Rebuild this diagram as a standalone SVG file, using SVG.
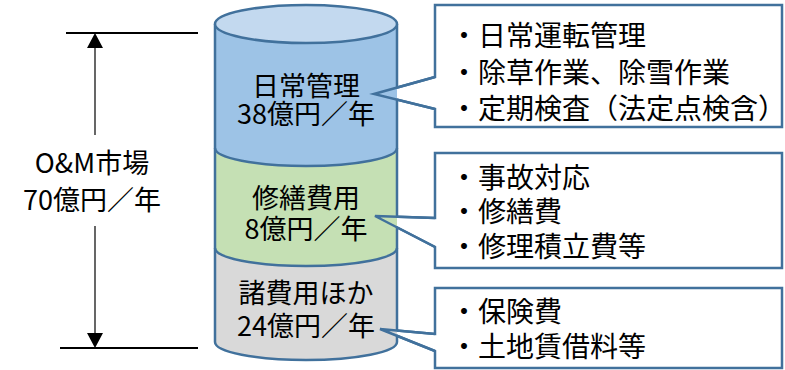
<svg xmlns="http://www.w3.org/2000/svg" width="785" height="370" viewBox="0 0 785 370">
<style>
text{font-family:"Noto Sans CJK JP","Noto Sans",sans-serif;font-size:27px;fill:#000}
.c{text-anchor:middle}
.l{font-size:28px}
.edge{fill:none;stroke:#41719C;stroke-width:2.5}
.box{fill:#fff;stroke:#41719C;stroke-width:2.5;stroke-linejoin:miter}
.ptr{fill:none;stroke:#41719C;stroke-width:2.5;stroke-linejoin:miter}
.dim{stroke:#000;stroke-width:2}
</style>
<rect width="785" height="370" fill="#fff"/>
<!-- callout boxes (under cylinder) -->
<g id="callout1"><path class="box" d="M435,77 V5 H782 V127 H435 V109 L374,94 Z"/>
<text class="l" x="450" y="46">・日常運転管理</text><text class="l" x="450" y="83">・除草作業、除雪作業</text><text class="l" x="450" y="119">・定期検査（法定点検含）</text></g>
<g id="callout2"><path class="box" d="M435,218 V153 H782 V268 H435 V247 L375,216 Z"/>
<text class="l" x="450" y="188">・事故対応</text><text class="l" x="450" y="222">・修繕費</text><text class="l" x="450" y="257">・修理積立費等</text></g>
<g id="callout3"><path class="box" d="M435,334 V288 H782 V368 H435 V351 L380,329 Z"/>
<text class="l" x="450" y="322">・保険費</text><text class="l" x="450" y="357">・土地賃借料等</text></g>
<!-- cylinder -->
<g id="cylinder">
<g id="sec-daily"><path fill="#9DC3E6" d="M215,24 L397,24 L397,148 A91,18 0 0 1 215,148 Z"/></g>
<g id="sec-repair"><path fill="#C5E0B4" d="M215,148 A91,18 0 0 0 397,148 L397,248 A91,18 0 0 1 215,248 Z"/></g>
<g id="sec-other"><path fill="#D9D9D9" d="M215,248 A91,18 0 0 0 397,248 L397,342 A91,18 0 0 1 215,342 Z"/></g>
<path class="edge" d="M215,24 V342 A91,18 0 0 0 397,342 V335.5 M397,330.5 V227.4 M397,216.7 V99.7 M397,87.6 V24"/>
<path class="edge" d="M215,148 A91,18 0 0 0 397,148 M215,248 A91,18 0 0 0 397,248"/>
<ellipse cx="306" cy="24" rx="91" ry="19" fill="#C3D9EF" stroke="#41719C" stroke-width="2.5"/>
<text class="c" x="306" y="96">日常管理</text><text class="c" x="306" y="124">38億円／年</text>
<text class="c" x="306" y="208">修繕費用</text><text class="c" x="306" y="239">8億円／年</text>
<text class="c" x="306" y="303">諸費用ほか</text><text class="c" x="306" y="336">24億円／年</text>
</g>
<!-- connectors: callout pointers over cylinder, and dimension -->
<g id="connectors">
<path class="ptr" d="M435,77 L374,94 L435,109"/>
<path class="ptr" d="M435,218 L375,216 L435,247"/>
<path class="ptr" d="M435,334 L380,329 L435,351"/>
<line class="dim" x1="66" y1="33" x2="198" y2="33"/>
<line class="dim" x1="60" y1="348" x2="198" y2="348"/>
<line x1="95" y1="46" x2="95" y2="135" stroke="#000" stroke-width="1.2"/>
<line x1="95" y1="226" x2="95" y2="335" stroke="#000" stroke-width="1.2"/>
<polygon points="95,33 87,48 103,48" fill="#000"/>
<polygon points="95,348 87,333 103,333" fill="#000"/>
</g>
<g id="total"><text class="c" x="92" y="173">O&amp;M市場</text><text class="c" x="92" y="210">70億円／年</text></g>
</svg>
